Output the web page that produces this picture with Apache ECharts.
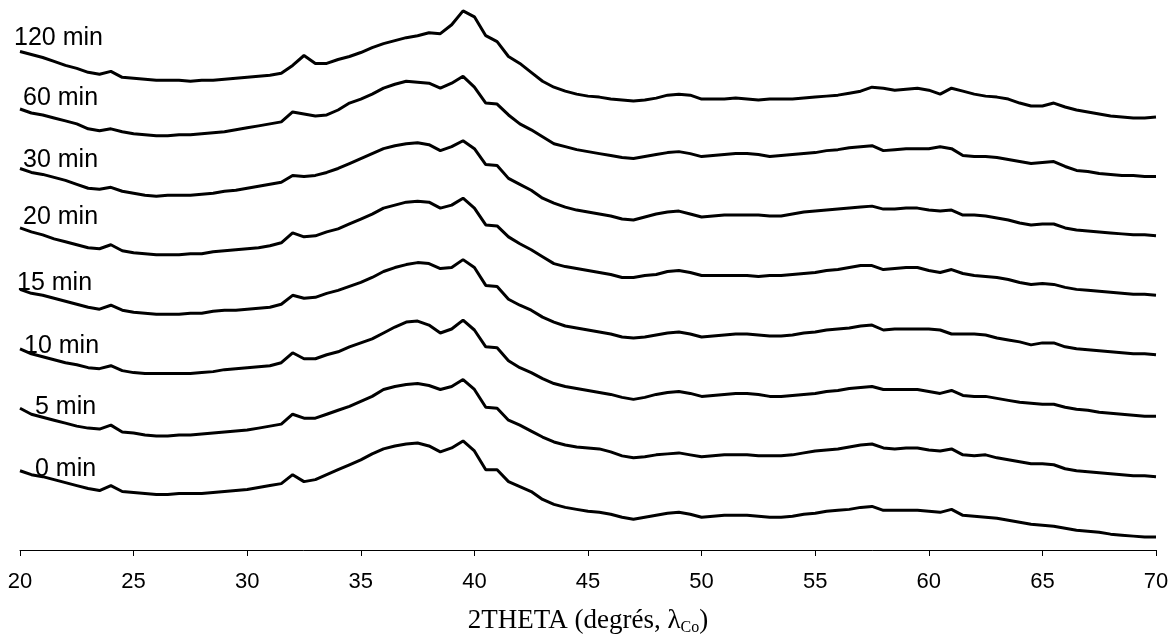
<!DOCTYPE html>
<html>
<head>
<meta charset="utf-8">
<script src="https://cdn.jsdelivr.net/npm/echarts@6/dist/echarts.min.js"></script>
<style>
  html, body { margin: 0; padding: 0; background: #fff; }
  #chart { width: 1175px; height: 641px; }
</style>
</head>
<body>
<div id="chart"></div>
<script>
// 2THETA (degrés) sampling positions
const twoTheta = [
  20, 20.5, 21, 21.5, 22, 22.5, 23, 23.5, 24, 24.5,
  25, 25.5, 26, 26.5, 27, 27.5, 28, 28.5, 29, 29.5,
  30, 30.5, 31, 31.5, 32, 32.5, 33, 33.5, 34, 34.5,
  35, 35.5, 36, 36.5, 37, 37.5, 38, 38.5, 39, 39.5,
  40, 40.5, 41, 41.5, 42, 42.5, 43, 43.5, 44, 44.5,
  45, 45.5, 46, 46.5, 47, 47.5, 48, 48.5, 49, 49.5,
  50, 50.5, 51, 51.5, 52, 52.5, 53, 53.5, 54, 54.5,
  55, 55.5, 56, 56.5, 57, 57.5, 58, 58.5, 59, 59.5,
  60, 60.5, 61, 61.5, 62, 62.5, 63, 63.5, 64, 64.5,
  65, 65.5, 66, 66.5, 67, 67.5, 68, 68.5, 69, 69.5,
  70
];

// Intensities (arbitrary units, curves stacked with offsets)
const min120 = [
  503, 500, 497, 493, 489, 486, 482, 480, 483, 477,
  476, 475, 474, 474, 474, 473, 474, 474, 475, 476,
  477, 478, 479, 481, 489, 499, 491, 491, 495, 498,
  502, 507, 511, 514, 517, 519, 522, 521, 530, 544,
  538, 519, 513, 498, 491, 482, 473, 467, 463, 460,
  458, 457, 455, 454, 453, 454, 456, 459, 460, 459,
  455, 455, 455, 456, 455, 454, 455, 455, 455, 456,
  457, 458, 459, 461, 463, 467, 466, 464, 465, 466,
  464, 460, 466, 463, 460, 458, 457, 455, 451, 448,
  448, 451, 447, 444, 442, 440, 438, 437, 436, 436,
  437
];
const min60 = [
  445, 441, 439, 436, 433, 430, 425, 423, 425, 422,
  420, 419, 418, 418, 419, 419, 420, 421, 422, 424,
  426, 428, 430, 432, 442, 440, 438, 439, 444, 451,
  455, 460, 466, 470, 473, 472, 471, 466, 471, 478,
  467, 451, 450, 439, 430, 424, 417, 410, 407, 404,
  402, 400, 398, 396, 395, 397, 399, 401, 402, 400,
  397, 398, 399, 400, 400, 399, 397, 398, 399, 400,
  401, 403, 404, 406, 407, 408, 403, 404, 405, 405,
  405, 407, 405, 398, 397, 397, 396, 394, 392, 390,
  391, 392, 387, 383, 382, 380, 379, 378, 378, 377,
  377
];
const min30 = [
  385, 381, 379, 376, 373, 369, 365, 364, 366, 362,
  360, 358, 357, 358, 358, 358, 359, 360, 362, 363,
  365, 367, 369, 371, 378, 377, 378, 381, 385, 390,
  395, 400, 405, 408, 410, 411, 409, 403, 407, 413,
  405, 389, 388, 375, 369, 363, 355, 350, 346, 343,
  341, 339, 337, 334, 333, 336, 339, 341, 342, 339,
  336, 337, 338, 338, 338, 338, 337, 337, 339, 341,
  342, 343, 344, 345, 346, 347, 344, 344, 345, 345,
  343, 342, 343, 338, 338, 337, 335, 333, 330, 328,
  329, 329, 325, 323, 322, 321, 320, 319, 318, 318,
  317
];
const min20 = [
  325, 321, 318, 314, 311, 308, 305, 304, 308, 302,
  300, 299, 298, 298, 298, 299, 299, 301, 302, 303,
  304, 305, 307, 310, 320, 316, 317, 321, 324, 329,
  334, 339, 345, 348, 351, 352, 351, 345, 348, 355,
  345, 328, 327, 316, 309, 303, 296, 289, 286, 284,
  282, 280, 278, 275, 275, 277, 278, 281, 282, 280,
  277, 277, 277, 277, 277, 276, 277, 277, 278, 279,
  280, 282, 283, 285, 287, 287, 283, 284, 285, 285,
  282, 280, 283, 279, 277, 276, 275, 273, 270, 268,
  269, 268, 265, 263, 262, 261, 260, 259, 258, 258,
  257
];
const min15 = [
  263, 259, 257, 254, 251, 248, 245, 243, 247, 242,
  240, 239, 238, 238, 238, 239, 239, 241, 242, 242,
  243, 244, 245, 248, 257, 254, 255, 259, 262, 266,
  270, 275, 281, 285, 288, 290, 289, 284, 285, 293,
  285, 267, 266, 253, 247, 242, 235, 230, 226, 224,
  222, 220, 218, 215, 214, 215, 217, 219, 220, 218,
  215, 216, 217, 218, 218, 217, 216, 216, 217, 219,
  220, 222, 223, 224, 226, 227, 222, 223, 223, 223,
  223, 222, 218, 218, 218, 217, 214, 212, 210, 207,
  209, 209, 205, 203, 202, 201, 200, 199, 198, 198,
  197
];
const min10 = [
  203, 198, 195, 192, 189, 187, 184, 183, 186, 181,
  179, 178, 178, 178, 178, 178, 179, 180, 182, 183,
  184, 185, 186, 189, 199, 193, 193, 197, 200, 205,
  209, 213, 219, 225, 230, 231, 227, 219, 223, 232,
  222, 205, 204, 191, 184, 179, 173, 168, 165, 163,
  161, 159, 157, 154, 152, 154, 157, 159, 160, 158,
  155, 156, 157, 158, 158, 157, 155, 155, 156, 157,
  158, 160, 161, 163, 164, 165, 162, 162, 162, 162,
  160, 158, 161, 156, 155, 155, 153, 151, 149, 148,
  147, 147, 144, 142, 141, 139, 138, 137, 136, 135,
  135
];
const min5 = [
  143, 137, 134, 131, 128, 125, 123, 122, 126, 119,
  118, 116, 115, 115, 116, 116, 117, 118, 119, 120,
  121, 123, 125, 127, 137, 133, 133, 137, 141, 145,
  150, 155, 162, 165, 167, 168, 166, 162, 165, 172,
  162, 144, 143, 131, 126, 120, 114, 109, 106, 104,
  103, 102, 99, 95, 93, 94, 96, 97, 98, 96,
  94, 95, 96, 96, 96, 95, 95, 95, 96, 98,
  100, 101, 102, 104, 106, 107, 103, 102, 103, 103,
  101, 100, 102, 96, 95, 96, 93, 91, 89, 87,
  87, 86, 82, 80, 79, 78, 77, 76, 75, 75,
  74
];
const min0 = [
  80, 76, 74, 71, 68, 65, 62, 60, 65, 59,
  58, 57, 56, 56, 57, 57, 57, 58, 59, 60,
  61, 63, 65, 67, 76, 69, 71, 76, 81, 86,
  91, 97, 102, 105, 107, 108, 105, 99, 103, 110,
  100, 81, 81, 69, 64, 59, 51, 46, 43, 41,
  39, 38, 36, 33, 31, 33, 35, 37, 38, 36,
  33, 34, 35, 35, 35, 34, 33, 33, 34, 36,
  37, 39, 40, 41, 43, 44, 40, 40, 40, 40,
  39, 38, 41, 35, 34, 33, 32, 30, 28, 26,
  25, 24, 22, 20, 19, 18, 16, 15, 14, 13,
  13
];

const seriesNames = ['120 min', '60 min', '30 min', '20 min', '15 min', '10 min', '5 min', '0 min'];
const seriesValues = [min120, min60, min30, min20, min15, min10, min5, min0];
const xTicks = [20, 25, 30, 35, 40, 45, 50, 55, 60, 65, 70];

// label placement (layout only)
const labelPos = [
  [14, 38], [23, 98], [23, 160], [23, 217], [17, 283], [24, 346], [35, 407], [35, 469]
];

const chart = echarts.init(document.getElementById('chart'), null, { renderer: 'canvas' });

const series = seriesNames.map((name, i) => ({
  name: name,
  type: 'line',
  data: twoTheta.map((x, j) => [x, seriesValues[i][j]]),
  showSymbol: false,
  symbol: 'none',
  smooth: false,
  lineStyle: { color: '#000', width: 3 },
  animation: false,
  silent: true
}));

const graphics = seriesNames.map((name, i) => ({
  type: 'text',
  x: labelPos[i][0],
  y: labelPos[i][1],
  style: {
    text: name,
    font: '25px "Liberation Sans", Arial, sans-serif',
    fill: '#000',
    textVerticalAlign: 'middle',
    verticalAlign: 'middle'
  },
  z: 100
}));

chart.setOption({
  backgroundColor: '#fff',
  animation: false,
  grid: { left: 20, right: 19, top: 0, bottom: 86, containLabel: false },
  xAxis: {
    type: 'value',
    min: xTicks[0],
    max: xTicks[xTicks.length - 1],
    interval: 5,
    axisLine: { show: true, onZero: false, lineStyle: { color: '#000', width: 1 } },
    axisTick: { show: true, inside: false, length: 6, lineStyle: { color: '#000', width: 1 } },
    splitLine: { show: false },
    axisLabel: {
      color: '#000',
      fontSize: 22,
      fontFamily: '"Liberation Sans Narrow", "Arial Narrow", "Liberation Sans", Arial, sans-serif',
      margin: 21,
      showMinLabel: true,
      showMaxLabel: true
    },
    name: '{t|2THETA (degrés, λ}{s|Co}{t|)}',
    nameLocation: 'middle',
    nameGap: 56,
    nameTextStyle: {
      rich: {
        t: { fontFamily: '"Liberation Serif", "Times New Roman", serif', fontSize: 27, color: '#000', lineHeight: 30 },
        s: { fontFamily: '"Liberation Serif", "Times New Roman", serif', fontSize: 16, color: '#000', lineHeight: 16, verticalAlign: 'bottom' }
      }
    }
  },
  yAxis: {
    type: 'value',
    min: 0,
    max: 555,
    show: false
  },
  series: series,
  graphic: graphics
});
</script>
</body>
</html>
